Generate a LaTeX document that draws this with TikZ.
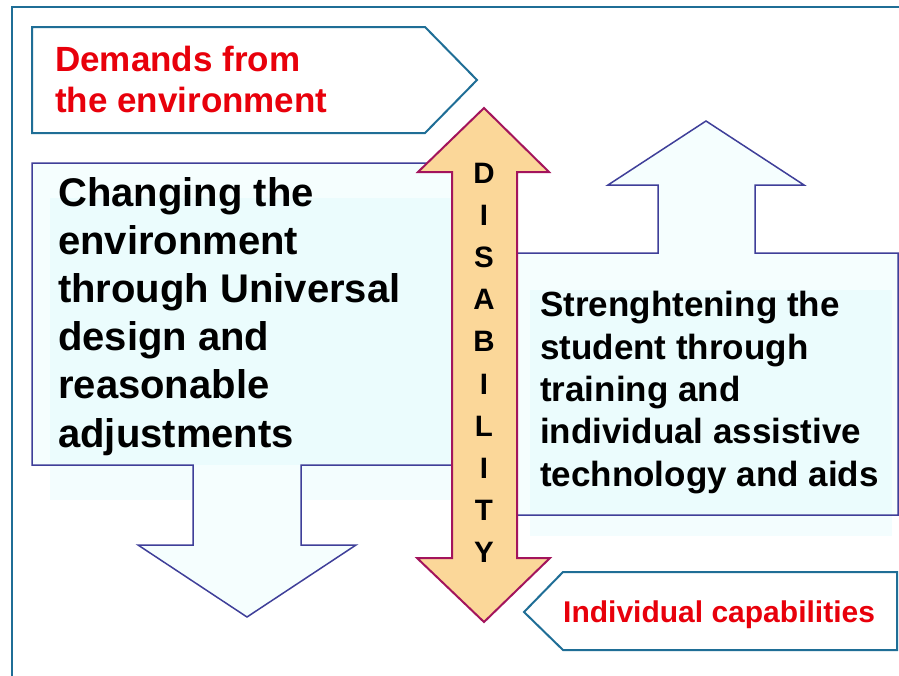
\documentclass[tikz,border=0pt]{standalone}
\usepackage{fontspec}
\setmainfont{Liberation Sans}
\usepackage{xcolor}
\usetikzlibrary{calc}
\definecolor{framecol}{HTML}{1F6E96}
\definecolor{boxline}{HTML}{3F3F99}
\definecolor{boxfill}{HTML}{F5FEFE}
\definecolor{boxtint}{HTML}{EBFCFD}
\definecolor{glowfill}{HTML}{F3FDFE}
\definecolor{disfill}{HTML}{FBD799}
\definecolor{disline}{HTML}{A3145C}
\definecolor{redtext}{HTML}{E8000B}
\tikzset{
  tag/.style={draw=framecol,line width=2pt,fill=white,line join=miter},
  shapebox/.style={draw=boxline,line width=1.5pt,line join=miter},
  disarrow/.style={draw=disline,fill=disfill,line width=2pt,line join=miter},
  redlabel/.style={text=redtext,inner sep=0pt,anchor=base west,align=left},
  blacklabel/.style={text=black,inner sep=0pt,anchor=base west,align=left},
  letter/.style={font=\fontsize{29.5}{29.5}\selectfont\bfseries,inner sep=0pt,anchor=base}
}

\begin{document}
\begin{tikzpicture}[x=1pt,y=-1pt]
    \useasboundingbox (0,0) rectangle (899,675);
    \clip (0,0) rectangle (899,675);
    \fill[white] (0,0) rectangle (899,675);
    % outer frame
    \draw[framecol,line width=2.5pt] (12,700) -- (12,7) -- (930,7);
    % demands from the environment (anchored at the last line)
    \draw[tag] (32,27) -- (425,27) -- (477,80) -- (425,133) -- (32,133) -- cycle;
    \node[redlabel,font=\fontsize{35}{41}\selectfont\bfseries] (demands) at (55,112)
      {Demands from\\the environment};
    % left box with down arrow
    \fill[glowfill] (50,198) rectangle (460,500);
    \fill[boxfill] (32,163) -- (470,163) -- (470,465) -- (301,465) -- (301,545)
      -- (356,545) -- (247,617) -- (138,545) -- (193,545) -- (193,465)
      -- (32,465) -- cycle;
    \fill[boxtint] (50,198) rectangle (460,465);
    \draw[shapebox] (32,163) -- (470,163) -- (470,465) -- (301,465) -- (301,545)
      -- (356,545) -- (247,617) -- (138,545) -- (193,545) -- (193,465)
      -- (32,465) -- cycle;
    % right box with up arrow
    \fill[glowfill] (530,290) rectangle (892,536);
    \fill[boxfill] (500,253) -- (658,253) -- (658,185) -- (608,185) -- (706,121)
      -- (804,185) -- (755,185) -- (755,253) -- (898,253) -- (898,515)
      -- (500,515) -- cycle;
    \fill[boxtint] (530,290) rectangle (892,515);
    \draw[shapebox] (500,253) -- (658,253) -- (658,185) -- (608,185) -- (706,121)
      -- (804,185) -- (755,185) -- (755,253) -- (898,253) -- (898,515)
      -- (500,515) -- cycle;
    \node[blacklabel,font=\fontsize{40}{48.2}\selectfont\bfseries] (changing) at (58,447)
      {Changing the\\environment\\through Universal\\design and\\reasonable\\adjustments};
    \node[blacklabel,font=\fontsize{35}{42.3}\selectfont\bfseries] (strength) at (540,486)
      {Strenghtening the\\student through\\training and\\individual assistive\\technology and aids};
    % disability double arrow
    \draw[disarrow] (484,108) -- (549,172) -- (517,172) -- (517,558) -- (550,558)
      -- (484,622) -- (417,558) -- (452,558) -- (452,172) -- (418,172) -- cycle;
    \foreach \l [count=\i from 0] in {D,I,S,A,B,I,L,I,T,Y}
      \node[letter] (dis\i) at (484,183+42.2*\i) {\l};
    % individual capabilities
    \draw[tag] (524,612) -- (563,572) -- (897,572) -- (897,650) -- (563,650) -- cycle;
    \node[redlabel,font=\fontsize{30}{36}\selectfont\bfseries] (capab) at (563,622)
      {Individual capabilities};
\end{tikzpicture}
\end{document}
